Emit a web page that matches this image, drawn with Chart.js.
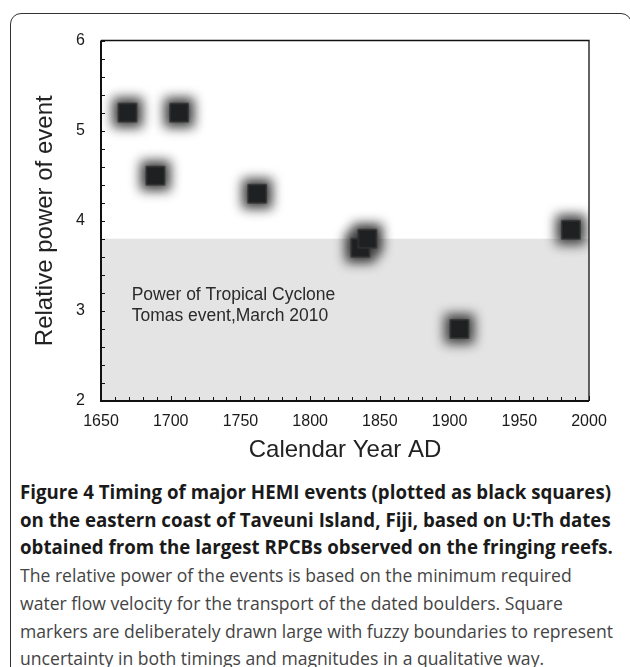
<!DOCTYPE html>
<html>
<head>
<meta charset="utf-8">
<script src="https://cdn.jsdelivr.net/npm/chart.js@4.4.1/dist/chart.umd.min.js"></script>
<style>
  html, body { margin: 0; padding: 0; background: #fff; }
  body { width: 630px; height: 667px; position: relative; overflow: hidden; }
  #frame { position: absolute; left: 10px; top: 13px; width: 622px; height: 720px;
           border: 1.5px solid #333; border-radius: 11px; box-sizing: border-box; }
  #wrap { position: absolute; left: 0; top: 0; width: 630px; height: 470px; }
  #caption { position: absolute; left: 20px; top: 479px; font-family: "Open Sans", sans-serif; }
  .ln { white-space: nowrap; width: max-content; font-size: 19px; line-height: 27.7px; transform-origin: 0 50%; }
  .b { font-weight: 700; color: #1a1a1a; }
  .n { color: #444; }
</style>
</head>
<body>
<div id="frame"></div>
<div id="wrap"><canvas id="chart" width="630" height="470"></canvas></div>
<div id="caption">
  <div class="ln b" id="b1">Figure 4 Timing of major HEMI events (plotted as black squares)</div>
  <div class="ln b">on the eastern coast of Taveuni Island, Fiji, based on U:Th dates</div>
  <div class="ln b">obtained from the largest RPCBs observed on the fringing reefs.</div>
  <div class="ln n">The relative power of the events is based on the minimum required</div>
  <div class="ln n">water flow velocity for the transport of the dated boulders. Square</div>
  <div class="ln n" id="n3">markers are deliberately drawn large with fuzzy boundaries to represent</div>
  <div class="ln n">uncertainty in both timings and magnitudes in a qualitative way.</div>
</div>
<script>
// datos
const years = [1669, 1706, 1689, 1762, 1836, 1841, 1907, 1987];
const power = [5.2, 5.2, 4.5, 4.3, 3.7, 3.8, 2.8, 3.9];
const tomasPower = 3.8;
const xLabelYears = [1650, 1700, 1750, 1800, 1850, 1900, 1950, 2000];
const yLabelValues = [2, 3, 4, 5, 6];
const noteLines = ['Power of Tropical Cyclone', 'Tomas event,March 2010'];

const FONT = '"Liberation Sans", Arial, sans-serif';
const points = years.map((yr, i) => ({ x: yr, y: power[i] }));

// marcadores: halo difuso + núcleo negro
function makeMarker(halo) {
    const c = document.createElement('canvas');
    c.width = c.height = 56;
    const g = c.getContext('2d');
    if (halo) {
        g.filter = 'blur(6px)';
        g.fillStyle = '#3c3c3c';
        g.fillRect(28 - 15, 28 - 15, 30, 30);
    } else {
        g.fillStyle = '#1f2022';
        g.fillRect(28 - 9.5, 28 - 9.5, 19, 19);
        g.strokeStyle = '#3a3a3a';
        g.lineWidth = 1;
        g.strokeRect(28 - 9, 28 - 9, 18, 18);
    }
    return c;
}

// marco del gráfico, ticks hacia dentro y texto de la nota
const boxPlugin = {
    id: 'boxPlugin',
    afterDraw(chart) {
        const { ctx, chartArea: a, scales: { x, y } } = chart;
        ctx.save();
        ctx.strokeStyle = '#111';
        ctx.lineWidth = 1.3;
        ctx.beginPath();
        ctx.moveTo(a.left, a.top); ctx.lineTo(a.right, a.top); ctx.lineTo(a.right, a.bottom);
        ctx.stroke();
        ctx.lineWidth = 2;
        ctx.beginPath();
        ctx.moveTo(a.left, a.top); ctx.lineTo(a.left, a.bottom); ctx.lineTo(a.right, a.bottom);
        ctx.stroke();

        ctx.lineWidth = 1;
        ctx.beginPath();
        x.ticks.forEach(t => {
            const px = Math.round(x.getPixelForValue(t.value)) + 0.5;
            const len = t.value % 50 === 0 ? 5 : 4;
            ctx.moveTo(px, a.bottom); ctx.lineTo(px, a.bottom - len);
        });
        y.ticks.forEach(t => {
            const py = Math.round(y.getPixelForValue(t.value)) + 0.5;
            ctx.moveTo(a.left, py); ctx.lineTo(a.left + 4, py);
        });
        ctx.stroke();

        ctx.fillStyle = '#2a2a2a';
        ctx.font = '17.5px ' + FONT;
        ctx.textBaseline = 'middle';
        const nx = x.getPixelForValue(1672);
        noteLines.forEach((line, i) => {
            ctx.fillText(line, nx, y.getPixelForValue(3.17) + i * 21);
        });
        ctx.restore();
    }
};

new Chart(document.getElementById('chart'), {
    type: 'scatter',
    data: {
        datasets: [
            {
                type: 'line',
                data: [{ x: 1650, y: tomasPower }, { x: 2000, y: tomasPower }],
                fill: 'start',
                backgroundColor: '#e4e4e4',
                borderWidth: 0,
                pointRadius: 0,
                order: 3
            },
            {
                data: points,
                pointStyle: makeMarker(true),
                pointRadius: 12,
                order: 2
            },
            {
                data: points,
                pointStyle: makeMarker(false),
                pointRadius: 10,
                order: 1
            }
        ]
    },
    options: {
        responsive: false,
        animation: false,
        layout: { padding: { top: 40.5, right: 41, left: 0, bottom: 0 } },
        plugins: { legend: { display: false }, tooltip: { enabled: false } },
        scales: {
            x: {
                type: 'linear',
                min: 1650,
                max: 2000,
                afterFit: s => { s.height = 69; },
                grid: { display: false, drawTicks: false },
                border: { display: false },
                ticks: {
                    stepSize: 10,
                    autoSkip: false,
                    maxRotation: 0,
                    padding: 11,
                    color: '#1a1a1a',
                    font: { family: FONT, size: 16 },
                    callback: v => xLabelYears.includes(v) ? String(v) : ''
                },
                title: {
                    display: true,
                    text: 'Calendar Year AD',
                    color: '#222',
                    font: { family: FONT, size: 24 },
                    padding: { top: 0, bottom: 5 }
                }
            },
            y: {
                min: 2,
                max: 6,
                afterFit: s => { s.width = 101; },
                grid: { display: false, drawTicks: false },
                border: { display: false },
                ticks: {
                    stepSize: 0.2,
                    autoSkip: false,
                    padding: 16,
                    color: '#1a1a1a',
                    font: { family: FONT, size: 16 },
                    callback: v => {
                        const hit = yLabelValues.find(l => Math.abs(l - v) < 1e-6);
                        return hit !== undefined ? String(hit) : '';
                    }
                },
                title: {
                    display: true,
                    text: 'Relative power of event',
                    color: '#222',
                    font: { family: FONT, size: 24 },
                    padding: { top: 31, bottom: 0 }
                }
            }
        }
    },
    plugins: [boxPlugin]
});

// ajustar ancho de las líneas del pie de figura
function fitCaption(cls, refId, target) {
    const ref = document.getElementById(refId);
    const k = target / ref.getBoundingClientRect().width;
    document.querySelectorAll('.ln.' + cls).forEach(el => { el.style.transform = 'scaleX(' + k + ')'; });
}
fitCaption('b', 'b1', 591);
fitCaption('n', 'n3', 593);
</script>
</body>
</html>
